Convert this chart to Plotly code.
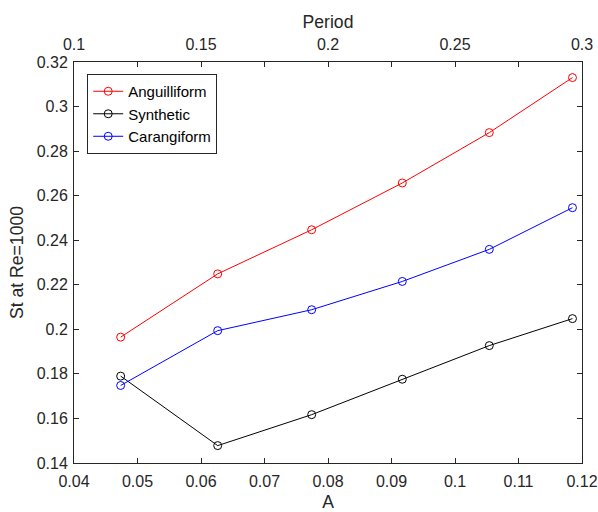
import plotly.graph_objects as go

# Amplitude values shared by all three swimming modes
amplitude = [0.04735, 0.06263, 0.07743, 0.0917, 0.1054, 0.1185]

# Strouhal number at Re=1000 for each mode
st_anguilliform = [0.1965, 0.2249, 0.2447, 0.2657, 0.2883, 0.3130]
st_synthetic = [0.1790, 0.1478, 0.1617, 0.1776, 0.1927, 0.2048]
st_carangiform = [0.1748, 0.1994, 0.2088, 0.2215, 0.2359, 0.2546]

series_names = ["Anguilliform", "Synthetic", "Carangiform"]
series_colors = ["#ff0000", "#000000", "#0000ff"]

# Top axis (period) ticks
period_ticks = [0.1, 0.125, 0.15, 0.175, 0.2, 0.225, 0.25, 0.275, 0.3]
period_labels = ["0.1", "", "0.15", "", "0.2", "", "0.25", "", "0.3"]

axis_color = "#262626"
font_family = "Liberation Sans, Arial, sans-serif"
tick_size = 16
title_size = 17.6

fig = go.Figure()
for name, ys, col in zip(series_names, [st_anguilliform, st_synthetic, st_carangiform], series_colors):
    fig.add_trace(go.Scatter(
        x=amplitude, y=ys, name=name, mode="lines+markers",
        line=dict(color=col, width=1),
        marker=dict(symbol="circle-open", size=8, color=col, line=dict(width=1, color=col)),
    ))

# Invisible trace so the period axis is drawn
fig.add_trace(go.Scatter(
    x=[period_ticks[0], period_ticks[-1]], y=[None, None], xaxis="x2",
    mode="markers", showlegend=False, hoverinfo="skip",
))

fig.update_layout(
    width=598, height=512,
    margin=dict(l=74, r=16, t=62, b=49, autoexpand=False),
    paper_bgcolor="white", plot_bgcolor="white",
    font=dict(family=font_family, size=tick_size, color=axis_color),
    showlegend=True,
    legend=dict(
        x=0.026, y=0.97, xanchor="left", yanchor="top",
        bgcolor="white", bordercolor=axis_color, borderwidth=1,
        font=dict(size=15, color="black"),
        tracegroupgap=0, itemwidth=30,
    ),
    xaxis=dict(
        range=[0.04, 0.12], dtick=0.01, tick0=0.04,
        ticks="inside", ticklen=5, tickcolor=axis_color,
        showline=True, linecolor=axis_color, linewidth=1,
        showgrid=False, zeroline=False, ticklabelstandoff=4, automargin=False,
        title=dict(text="A", font=dict(size=title_size, color=axis_color), standoff=13),
        tickfont=dict(size=tick_size, color=axis_color),
    ),
    xaxis2=dict(
        range=[0.1, 0.3], overlaying="x", side="top",
        tickvals=period_ticks, ticktext=period_labels,
        ticks="inside", ticklen=5, tickcolor=axis_color,
        showline=True, linecolor=axis_color, linewidth=1,
        showgrid=False, zeroline=False, ticklabelstandoff=5, automargin=False,
        title=dict(text="Period", font=dict(size=title_size, color=axis_color), standoff=2),
        tickfont=dict(size=tick_size, color=axis_color),
    ),
    yaxis=dict(
        range=[0.14, 0.32], dtick=0.02, tick0=0.14,
        ticks="inside", ticklen=5, tickcolor=axis_color,
        showline=True, linecolor=axis_color, linewidth=1, mirror="ticks",
        showgrid=False, zeroline=False, ticklabelstandoff=2, automargin=False,
        title=dict(text="St at Re=1000", font=dict(size=title_size, color=axis_color), standoff=8),
        tickfont=dict(size=tick_size, color=axis_color),
    ),
)

fig.write_html("out.html")
